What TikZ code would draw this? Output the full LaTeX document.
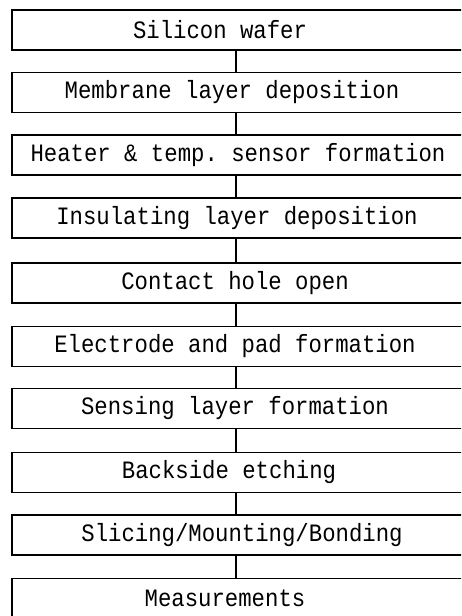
\documentclass[tikz,border=0pt]{standalone}
\usepackage{fontspec}
\setmonofont{Liberation Mono}
\begin{document}
\begin{tikzpicture}[x=1pt,y=-1pt,
  stepbox/.style={draw=black,line width=1.5pt,rectangle,minimum width=452pt,minimum height=40pt,inner sep=0pt},
  steptext/.style={font=\ttfamily\fontsize{22.3}{24}\selectfont,inner sep=0pt,text=black},
  link/.style={draw=black,line width=1.5pt}]
\useasboundingbox (0,0) rectangle (461,616);
\clip (0,0) rectangle (461,616);
\fill[white] (0,0) rectangle (461,616);
\node[stepbox] (b1) at (238,30) {};
\node[stepbox] (b2) at (238,92.5) {};
\node[stepbox] (b3) at (238,155) {};
\node[stepbox] (b4) at (238,218) {};
\node[stepbox] (b5) at (238,283) {};
\node[stepbox] (b6) at (238,346.5) {};
\node[stepbox] (b7) at (238,408.5) {};
\node[stepbox] (b8) at (238,472.5) {};
\node[stepbox] (b9) at (238,535) {};
\node[stepbox] (b10) at (238,598.5) {};
\node[steptext] (t1) at ([xshift=-18pt]b1.center) {\scalebox{1}[1.12]{Silicon wafer}};
\node[steptext] (t2) at ([xshift=-6pt]b2.center) {\scalebox{1}[1.12]{Membrane layer deposition}};
\node[steptext] (t3) at ([xshift=0pt]b3.center) {\scalebox{1}[1.12]{Heater \& temp. sensor formation}};
\node[steptext] (t4) at ([xshift=-1pt]b4.center) {\scalebox{1}[1.12]{Insulating layer deposition}};
\node[steptext] (t5) at ([xshift=-3pt]b5.center) {\scalebox{1}[1.12]{Contact hole open}};
\node[steptext] (t6) at ([xshift=-3pt]b6.center) {\scalebox{1}[1.12]{Electrode and pad formation}};
\node[steptext] (t7) at ([xshift=-3pt]b7.center) {\scalebox{1}[1.12]{Sensing layer formation}};
\node[steptext] (t8) at ([xshift=-9pt]b8.center) {\scalebox{1}[1.12]{Backside etching}};
\node[steptext] (t9) at ([xshift=4pt]b9.center) {\scalebox{1}[1.12]{Slicing/Mounting/Bonding}};
\node[steptext] (t10) at ([xshift=-13pt]b10.center) {\scalebox{1}[1.12]{Measurements}};
\foreach \a/\b in {b1/b2,b2/b3,b3/b4,b4/b5,b5/b6,b6/b7,b7/b8,b8/b9,b9/b10}
  \draw[link] ([xshift=-2pt]\a.south) -- ([xshift=-2pt]\b.north);
\end{tikzpicture}
\end{document}
